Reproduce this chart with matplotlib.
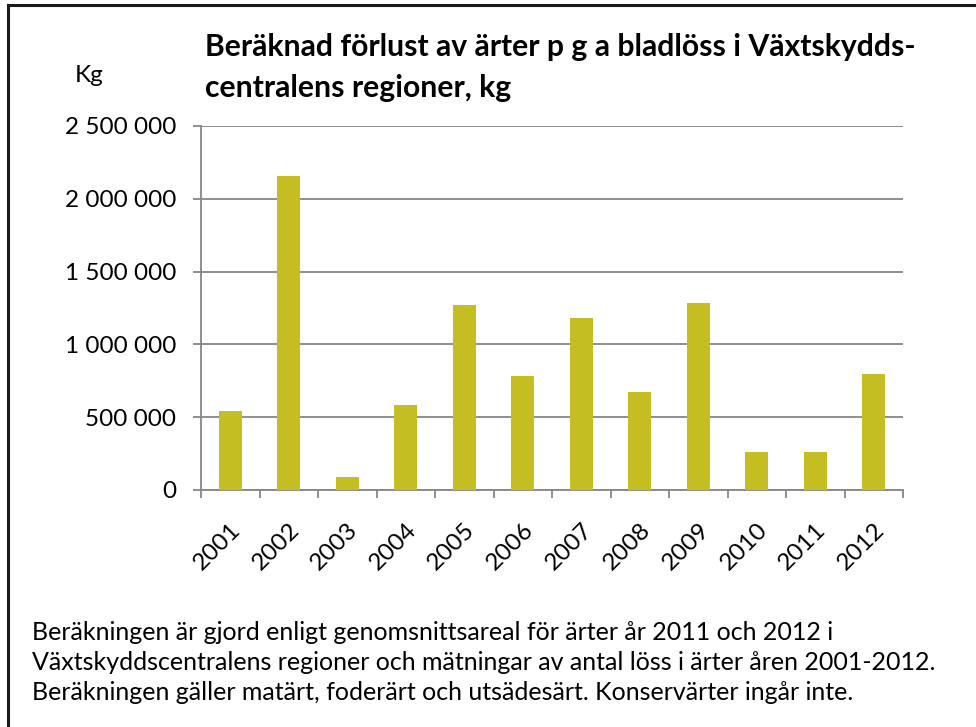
import matplotlib
matplotlib.use("Agg")
import matplotlib.pyplot as plt
from matplotlib.lines import Line2D
from matplotlib.ticker import FuncFormatter, FixedLocator

years = ["2001", "2002", "2003", "2004", "2005", "2006",
         "2007", "2008", "2009", "2010", "2011", "2012"]
loss_kg = [545000, 2154000, 92000, 583000, 1269000, 785000,
           1184000, 674000, 1283000, 258000, 263000, 798000]

title = "Beräknad förlust av ärter p g a bladlöss i Växtskydds-\ncentralens regioner, kg"
footnote = [
    "Beräkningen är gjord enligt genomsnittsareal för ärter år 2011 och 2012 i",
    "Växtskyddscentralens regioner och mätningar av antal löss i ärter åren 2001-2012.",
    "Beräkningen gäller matärt, foderärt och utsädesärt. Konservärter ingår inte.",
]

plt.rcParams['font.family'] = ['Lato', 'DejaVu Sans']

fig = plt.figure(figsize=(9.76, 7.27), dpi=100)
ax = fig.add_axes([201 / 976, 1 - 490 / 727, 702 / 976, 364 / 727])

grey = "#868686"
x = range(len(years))
ax.bar(x, loss_kg, width=0.4, color="#C4BE22", zorder=3)

ax.set_xlim(-0.5, len(years) - 0.5)
ax.set_ylim(0, 2500000)
ax.set_yticks(range(0, 2500001, 500000))
ax.yaxis.set_major_formatter(FuncFormatter(lambda v, p: f"{int(v):,}".replace(",", " ")))
ax.grid(axis='y', color=grey, linewidth=1.3, zorder=0)

ax.set_xticks(list(x))
ax.set_xticklabels(years, rotation=45, ha='right', va='top', rotation_mode='anchor')
ax.xaxis.set_minor_locator(FixedLocator([i - 0.5 for i in range(len(years) + 1)]))
ax.tick_params(axis='x', which='major', length=0, pad=21, labelsize=17.5)
ax.tick_params(axis='x', which='minor', length=6, color=grey, width=1.3)
ax.tick_params(axis='y', length=6, color=grey, width=1.3, labelsize=17.5, pad=12)

for s in ['top', 'right']:
    ax.spines[s].set_visible(False)
for s in ['left', 'bottom']:
    ax.spines[s].set_color(grey)
    ax.spines[s].set_linewidth(1.3)

fig.text(205 / 976, 1 - 33 / 727, title, fontsize=21.7, fontweight='bold',
         ha='left', va='top', linespacing=1.55)
fig.text(89 / 976, 1 - 75 / 727, "Kg", fontsize=17.5, ha='center', va='center')

for i, line in enumerate(footnote):
    fig.text(32 / 976, 1 - (632 + 30 * i) / 727, line, fontsize=18, ha='left', va='center')

# frame: only top and left edges are visible in the original
fig.add_artist(Line2D([8 / 976, 1], [1 - 5 / 727, 1 - 5 / 727], transform=fig.transFigure,
                      color="#1a1a1a", linewidth=2.2))
fig.add_artist(Line2D([8 / 976, 8 / 976], [0, 1 - 5 / 727], transform=fig.transFigure,
                      color="#1a1a1a", linewidth=2.2))

fig.savefig("out.png", dpi=100)
